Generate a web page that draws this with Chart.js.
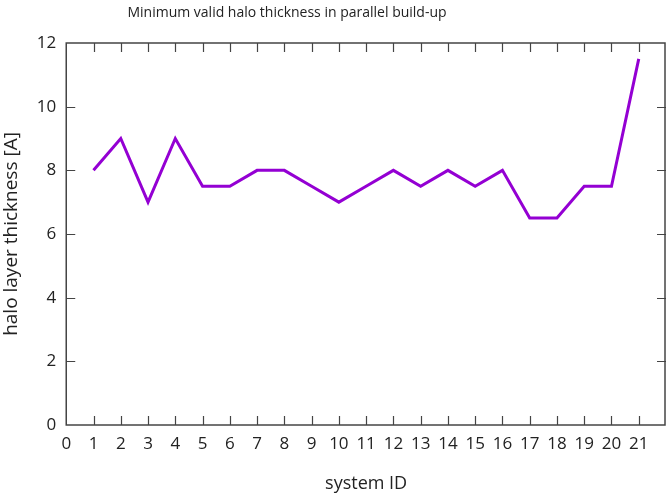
<!DOCTYPE html>
<html>
<head>
<meta charset="utf-8">
<script src="https://cdn.jsdelivr.net/npm/chart.js@4/dist/chart.umd.min.js"></script>
<style>
  html, body { margin: 0; padding: 0; background: #fff; }
  #box { width: 666px; height: 496px; }
</style>
</head>
<body>
<div id="box"><canvas id="grafico"></canvas></div>
<script>
// dati
const systemIds = [1, 2, 3, 4, 5, 6, 7, 8, 9, 10, 11, 12, 13, 14, 15, 16, 17, 18, 19, 20, 21];
const haloThickness = [8, 9, 7, 9, 7.5, 7.5, 8, 8, 7.5, 7, 7.5, 8, 7.5, 8, 7.5, 8, 6.5, 6.5, 7.5, 7.5, 11.5];
const xTicks = [0, 22, 1];   // min, max, passo
const yTicks = [0, 12, 2];
const titolo = "Minimum valid halo thickness in parallel build-up";

const testo = "#222";
const fontBase = "'Open Sans', 'Noto Sans', sans-serif";

// titolo, cornice e tacche interne stile gnuplot
const cornice = {
    id: "cornice",
    afterDraw(chart) {
        const ctx = chart.ctx;
        const a = chart.chartArea;
        const sx = chart.scales.x;
        const sy = chart.scales.y;
        const L = 9;
        ctx.save();
        ctx.fillStyle = testo;
        ctx.font = "14px " + fontBase;
        ctx.textAlign = "center";
        ctx.textBaseline = "middle";
        ctx.fillText(titolo, 287, 13);

        ctx.strokeStyle = "#444";
        ctx.lineWidth = 1.2;
        ctx.beginPath();
        for (let v = xTicks[0] + xTicks[2]; v < xTicks[1]; v += xTicks[2]) {
            const px = Math.round(sx.getPixelForValue(v)) + 0.5;
            ctx.moveTo(px, a.bottom); ctx.lineTo(px, a.bottom - L);
            ctx.moveTo(px, a.top); ctx.lineTo(px, a.top + L);
        }
        for (let v = yTicks[0] + yTicks[2]; v < yTicks[1]; v += yTicks[2]) {
            const py = Math.round(sy.getPixelForValue(v)) + 0.5;
            ctx.moveTo(a.left, py); ctx.lineTo(a.left + L, py);
            ctx.moveTo(a.right, py); ctx.lineTo(a.right - L, py);
        }
        ctx.stroke();
        ctx.lineWidth = 1.5;
        ctx.strokeRect(a.left, a.top, a.right - a.left - 1, a.bottom - a.top);
        ctx.restore();
    }
};

const grafico = new Chart(document.getElementById("grafico"), {
    type: "line",
    data: {
        datasets: [{
            data: systemIds.map((id, i) => ({ x: id, y: haloThickness[i] })),
            borderColor: "#9400d3",
            borderWidth: 3,
            pointRadius: 0,
            tension: 0,
            fill: false
        }]
    },
    options: {
        responsive: true,
        maintainAspectRatio: false,
        animation: false,
        layout: { padding: { left: 0, right: 0, top: 43, bottom: 1 } },
        plugins: {
            legend: { display: false },
            tooltip: { enabled: false },
            title: { display: false }
        },
        scales: {
            x: {
                type: "linear",
                min: xTicks[0],
                max: xTicks[1],
                grid: { display: false, drawTicks: false },
                border: { display: false },
                afterFit: s => { s.paddingRight = 0; },
                ticks: {
                    stepSize: xTicks[2],
                    autoSkip: false,
                    maxRotation: 0,
                    padding: 9,
                    color: testo,
                    font: { family: fontBase, size: 17 },
                    callback: v => (v === xTicks[1] ? "" : v)
                },
                title: {
                    display: true,
                    text: "system ID",
                    color: testo,
                    font: { family: fontBase, size: 18 },
                    padding: { top: 10, bottom: 0 }
                }
            },
            y: {
                min: yTicks[0],
                max: yTicks[1],
                grid: { display: false, drawTicks: false },
                border: { display: false },
                afterFit: s => { s.paddingTop = 0; },
                ticks: {
                    stepSize: yTicks[2],
                    padding: 10,
                    color: testo,
                    font: { family: fontBase, size: 17 }
                },
                title: {
                    display: true,
                    text: "halo layer thickness [A]",
                    color: testo,
                    font: { family: fontBase, size: 19 },
                    padding: { top: 0, bottom: 4 }
                }
            }
        }
    },
    plugins: [cornice]
});
</script>
</body>
</html>
